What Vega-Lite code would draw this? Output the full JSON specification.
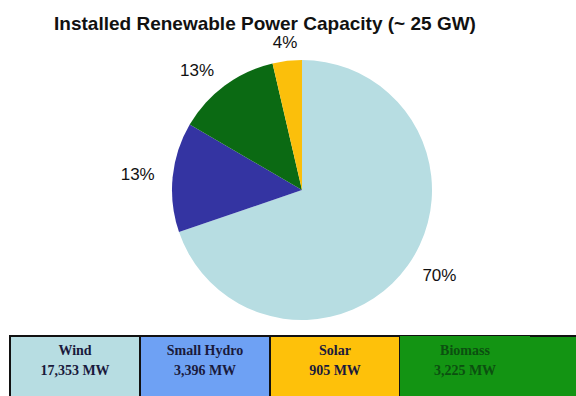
{
  "$schema": "https://vega.github.io/schema/vega-lite/v6.json",
  "padding": {"left": 8, "top": 14, "right": 0, "bottom": 0},
  "background": "white",
  "spacing": 14,
  "config": {"view": {"stroke": null}},
  "resolve": {"scale": {"color": "independent", "x": "independent"}},
  "vconcat": [
    {
      "width": 584,
      "height": 256,
      "title": {"text": "Installed Renewable Power Capacity (~ 25 GW)", "font": "Liberation Sans", "fontSize": 19, "fontWeight": "bold", "color": "#111111", "anchor": "middle", "dx": -37, "offset": 0},
      "data": {"values": [
        {"source": "Wind", "mw": 17353, "ord": 1, "pct": "70%"},
        {"source": "Small Hydro", "mw": 3396, "ord": 2, "pct": "13%"},
        {"source": "Biomass", "mw": 3225, "ord": 3, "pct": "13%"},
        {"source": "Solar", "mw": 905, "ord": 4, "pct": "4%"}
      ]},
      "encoding": {
        "theta": {"field": "mw", "type": "quantitative", "stack": true},
        "order": {"field": "ord", "type": "quantitative"}
      },
      "layer": [
        {
          "mark": {"type": "arc", "outerRadius": 130},
          "encoding": {
            "color": {"field": "source", "type": "nominal", "legend": null,
              "scale": {"domain": ["Wind", "Small Hydro", "Biomass", "Solar"], "range": ["#b7dde2", "#3434a2", "#0b6a13", "#fbbf0b"]}}
          }
        },
        {
          "mark": {"type": "text", "radius": 148, "font": "Liberation Sans", "fontSize": 17, "color": "#111111",
            "align": {"expr": "datum.source === 'Wind' ? 'left' : (datum.source === 'Solar' ? 'center' : 'right')"}},
          "encoding": {"text": {"field": "pct", "type": "nominal"}}
        }
      ]
    },
    {
      "width": 568,
      "height": 70,
      "view": {"fill": "#139413", "stroke": "#111111", "strokeWidth": 2},
      "data": {"values": [
        {"name": "Wind", "label": "Wind\n17,353 MW"},
        {"name": "Small Hydro", "label": "Small Hydro\n3,396 MW"},
        {"name": "Solar", "label": "Solar\n905 MW"},
        {"name": "Biomass", "label": "Biomass\n3,225 MW"}
      ]},
      "encoding": {
        "x": {"field": "name", "type": "nominal", "axis": null,
          "scale": {"domain": ["Wind", "Small Hydro", "Solar", "Biomass"], "paddingInner": 0, "paddingOuter": 0.1846, "align": 0}}
      },
      "layer": [
        {
          "mark": {"type": "rect", "stroke": "#111111", "strokeWidth": 2},
          "encoding": {
            "color": {"field": "name", "type": "nominal", "legend": null,
              "scale": {"domain": ["Wind", "Small Hydro", "Solar", "Biomass"], "range": ["#b7dde2", "#6ea1f4", "#fec10a", "#139413"]}},
            "strokeOpacity": {"condition": {"test": "datum.name === 'Biomass'", "value": 0}, "value": 1}
          }
        },
        {
          "mark": {"type": "text", "lineBreak": "\n", "font": "Liberation Serif", "fontWeight": "bold", "fontSize": 14, "lineHeight": 20, "dy": -20},
          "encoding": {
            "text": {"field": "label", "type": "nominal"},
            "color": {"condition": {"test": "datum.name === 'Biomass'", "value": "#0c4f10"}, "value": "#1a1a3c"}
          }
        }
      ]
    }
  ]
}
